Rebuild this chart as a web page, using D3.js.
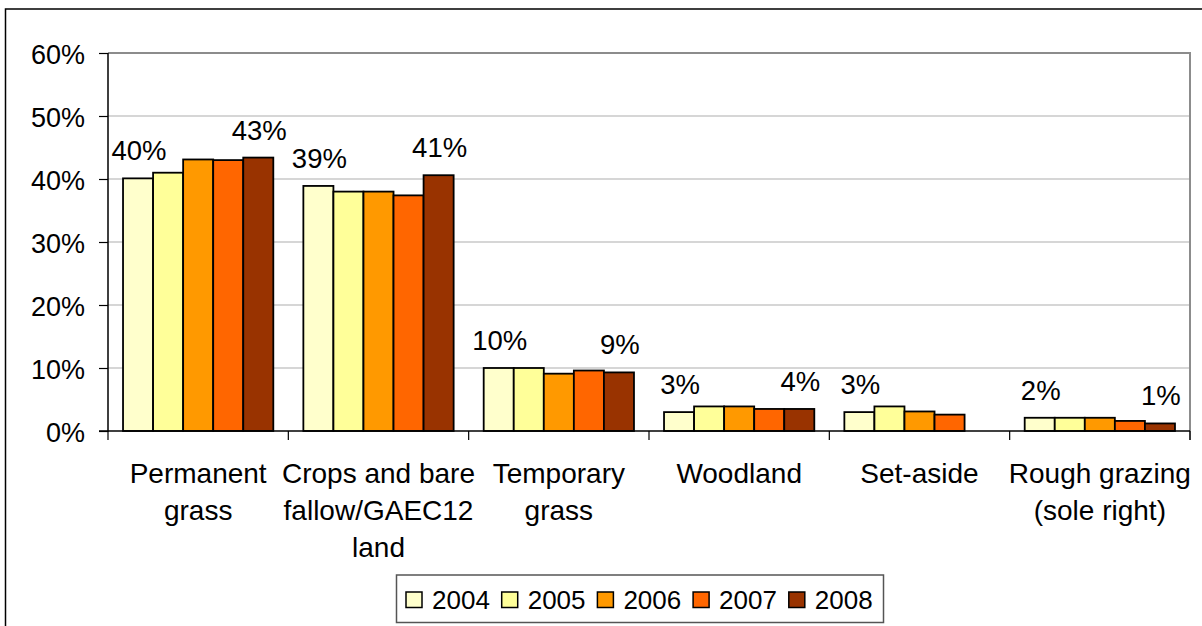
<!DOCTYPE html>
<html>
<head>
<meta charset="utf-8">
<script src="https://cdn.jsdelivr.net/npm/d3@7"></script>
<style>
  html, body { margin: 0; padding: 0; background: #fff; }
  svg { display: block; font-family: "Liberation Sans", Arial, sans-serif; }
</style>
</head>
<body>
<svg id="chart" width="1202" height="626"></svg>
<script>
// ---- Data ----
const categories = [
  "Permanent\ngrass",
  "Crops and bare\nfallow/GAEC12\nland",
  "Temporary\ngrass",
  "Woodland",
  "Set-aside",
  "Rough grazing\n(sole right)"
];
const years = ["2004", "2005", "2006", "2007", "2008"];
const colors = ["#FFFFCC", "#FFFF99", "#FF9900", "#FF6600", "#993300"];
const v2004 = [40.1, 38.9, 10.0, 3.0, 3.0, 2.1];
const v2005 = [41.0, 38.0, 10.0, 3.9, 3.9, 2.1];
const v2006 = [43.1, 38.0, 9.1, 3.9, 3.1, 2.1];
const v2007 = [43.0, 37.4, 9.6, 3.5, 2.6, 1.6];
const v2008 = [43.4, 40.6, 9.3, 3.5, null, 1.2];
const series = [v2004, v2005, v2006, v2007, v2008];
const labelledSeries = ["2004", "2008"];
const yTicks = [0, 10, 20, 30, 40, 50, 60];

// ---- Layout ----
const svg = d3.select("#chart");
const L = 108, R = 1190, T = 53, B = 431;

const x0 = d3.scaleBand().domain(categories).range([L, R]).paddingInner(0).paddingOuter(0);
const x1 = d3.scaleBand().domain(years).range([0, x0.bandwidth()]).paddingInner(0).paddingOuter(0.5);
const y = d3.scaleLinear().domain([0, 60]).range([B, T]);

// Outer chart border
svg.append("rect")
  .attr("x", 5.5).attr("y", 9).attr("width", 1210).attr("height", 640)
  .attr("fill", "none").attr("stroke", "#000").attr("stroke-width", 1.5);

// Gridlines
svg.append("g").selectAll("line").data(yTicks.filter(d => d > 0)).join("line")
  .attr("x1", L).attr("x2", R)
  .attr("y1", d => y(d)).attr("y2", d => y(d))
  .attr("stroke", d => d === 60 ? "#8c8c8c" : "#c8c8c8")
  .attr("stroke-width", d => d === 60 ? 2 : 1.5);

// Plot area right border
svg.append("line").attr("x1", R).attr("x2", R).attr("y1", T - 1).attr("y2", B + 9)
  .attr("stroke", "#8c8c8c").attr("stroke-width", 2);

// Bars
const groups = svg.append("g").selectAll("g").data(categories).join("g")
  .attr("transform", d => `translate(${x0(d)},0)`);

groups.selectAll("rect")
  .data((c, ci) => years.map((yr, si) => ({ yr, si, v: series[si][ci] })).filter(d => d.v != null))
  .join("rect")
  .attr("x", d => x1(d.yr))
  .attr("width", x1.bandwidth())
  .attr("y", d => y(d.v))
  .attr("height", d => y(0) - y(d.v))
  .attr("fill", d => colors[d.si])
  .attr("stroke", "#000")
  .attr("stroke-width", 1.8);

// Data labels
groups.selectAll("text.dl")
  .data((c, ci) => years.map((yr, si) => ({ yr, si, v: series[si][ci] }))
    .filter(d => d.v != null && labelledSeries.includes(d.yr)))
  .join("text")
  .attr("class", "dl")
  .attr("x", d => x1(d.yr) + x1.bandwidth() / 2 + 1)
  .attr("y", d => y(d.v) - 18)
  .attr("text-anchor", "middle")
  .attr("font-size", 27.5)
  .attr("fill", "#000")
  .text(d => Math.round(d.v) + "%");

// Y axis
const yAxis = d3.axisLeft(y).tickValues(yTicks).tickSize(9).tickPadding(14)
  .tickFormat(d => d + "%");
const ya = svg.append("g").attr("transform", `translate(${L},0)`).call(yAxis);
ya.select(".domain").attr("stroke", "#000").attr("stroke-width", 1.5)
  .attr("d", `M-9,${B}H0V${T}`);
ya.selectAll(".tick line").attr("stroke", "#000").attr("stroke-width", 1.2);
ya.selectAll(".tick text").attr("font-size", 27).attr("fill", "#000")
  .attr("font-family", "Liberation Sans, Arial, sans-serif").attr("dy", "0.37em");

// X axis
svg.append("line").attr("x1", L).attr("x2", R).attr("y1", B).attr("y2", B)
  .attr("stroke", "#000").attr("stroke-width", 1.5);
const bounds = categories.map(c => x0(c)).concat([R]);
svg.append("g").selectAll("line").data(bounds).join("line")
  .attr("x1", d => d).attr("x2", d => d)
  .attr("y1", B).attr("y2", B + 9)
  .attr("stroke", "#000").attr("stroke-width", 1.2);

// Category labels
const catG = svg.append("g");
categories.forEach(c => {
  const lines = c.split("\n");
  const t = catG.append("text")
    .attr("text-anchor", "middle")
    .attr("font-size", 28)
    .attr("fill", "#000");
  lines.forEach((ln, i) => {
    t.append("tspan")
      .attr("x", x0(c) + x0.bandwidth() / 2)
      .attr("y", 483 + i * 37)
      .text(ln);
  });
});

// Legend
const legX = 396.5, legY = 575, legW = 487, legH = 47.5;
svg.append("rect").attr("x", legX).attr("y", legY).attr("width", legW).attr("height", legH)
  .attr("fill", "#fff").attr("stroke", "#555").attr("stroke-width", 1.5);
const leg = svg.append("g").selectAll("g").data(years).join("g")
  .attr("transform", (d, i) => `translate(${406 + i * 95.7},0)`);
leg.append("rect")
  .attr("x", 0).attr("y", 592).attr("width", 16).attr("height", 15.5)
  .attr("fill", (d, i) => colors[i]).attr("stroke", "#000").attr("stroke-width", 1.5);
leg.append("text")
  .attr("x", 26).attr("y", 609)
  .attr("font-size", 26).attr("fill", "#000")
  .text(d => d);
</script>
</body>
</html>
